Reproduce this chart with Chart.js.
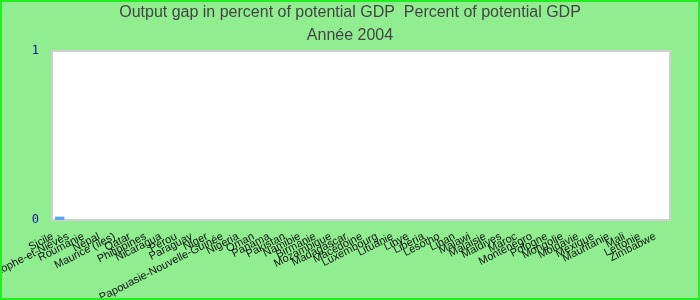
<!DOCTYPE html>
<html><head><meta charset="utf-8">
<script src="https://cdn.jsdelivr.net/npm/chart.js@4/dist/chart.umd.min.js"></script>
<style>
html,body{margin:0;padding:0;background:#90ee90;}
#wrap{position:relative;width:696px;height:296px;border:2px solid #22ee22;background:#90ee90;}
</style></head><body>
<div id="wrap"><canvas id="c" width="696" height="296"></canvas></div>
<script>
const categories = ["Sicile","Saint-Christophe-et-Niévès","Roumanie","Népal","Maurice (îles)","Qatar","Philippines","Nicaragua","Pérou","Paraguay","Niger","Papouasie-Nouvelle-Guinée","Nigeria","Oman","Panama","Pakistan","Namibie","Birmanie","Mozambique","Madagascar","Macédoine","Luxembourg","Lituanie","Libye","Libéria","Lesotho","Liban","Malawi","Malaisie","Maldives","Maroc","Monténégro","Pologne","Mongolie","Moldavie","Mexique","Mauritanie","Mali","Lettonie","Zimbabwe"];
const values = [0.02,0,0,0,0,0,0,0,0,0,0,0,0,0,0,0,0,0,0,0,0,0,0,0,0,0,0,0,0,0,0,0,0,0,0,0,0,0,0,0];
const yTicks = [0, 1];
const titleLines = ["Output gap in percent of potential GDP  Percent of potential GDP", "Année 2004"];

const areaPlugin = {
  id: 'area',
  beforeDraw(chart) {
    const {ctx, chartArea: a} = chart;
    ctx.save();
    ctx.fillStyle = '#ffffff';
    ctx.fillRect(a.left, a.top, a.right - a.left, a.bottom - a.top);
    ctx.strokeStyle = '#d0d0d0';
    ctx.lineWidth = 2;
    ctx.strokeRect(a.left, a.top, a.right - a.left, a.bottom - a.top);
    ctx.fillStyle = '#444444';
    ctx.font = '16px "Liberation Sans", Arial';
    ctx.textAlign = 'center';
    ctx.textBaseline = 'middle';
    ctx.fillText(titleLines[0], chart.width / 2, 11);
    ctx.fillText(titleLines[1], chart.width / 2, 34);
    ctx.restore();
  }
};

new Chart(document.getElementById('c'), {
  type: 'bar',
  data: {
    labels: categories,
    datasets: [{
      data: values,
      backgroundColor: '#64a0f0',
      borderWidth: 0,
      categoryPercentage: 0.8,
      barPercentage: 0.75
    }]
  },
  options: {
    responsive: false,
    animation: false,
    layout: {padding: {left: 0, right: 28, top: 49, bottom: 0}},
    plugins: {
      legend: {display: false},
      tooltip: {enabled: false},
      title: {display: false}
    },
    scales: {
      x: {
        grid: {display: false},
        border: {display: false},
        afterFit(axis) { axis.height = 78; },
        ticks: {
          autoSkip: false,
          maxRotation: 27,
          minRotation: 27,
          labelOffset: -7,
          color: '#111111',
          padding: 2,
          font: {family: 'Liberation Sans, Arial', size: 11}
        }
      },
      y: {
        min: 0,
        max: 1,
        afterBuildTicks(axis) { axis.ticks = yTicks.map(v => ({value: v})); },
        afterFit(axis) { axis.width = 50; },
        grid: {display: false},
        border: {display: false},
        ticks: {
          color: '#1010a0',
          padding: 5,
          font: {family: 'DejaVu Sans Mono', size: 12}
        }
      }
    }
  },
  plugins: [areaPlugin]
});
</script>
</body></html>
